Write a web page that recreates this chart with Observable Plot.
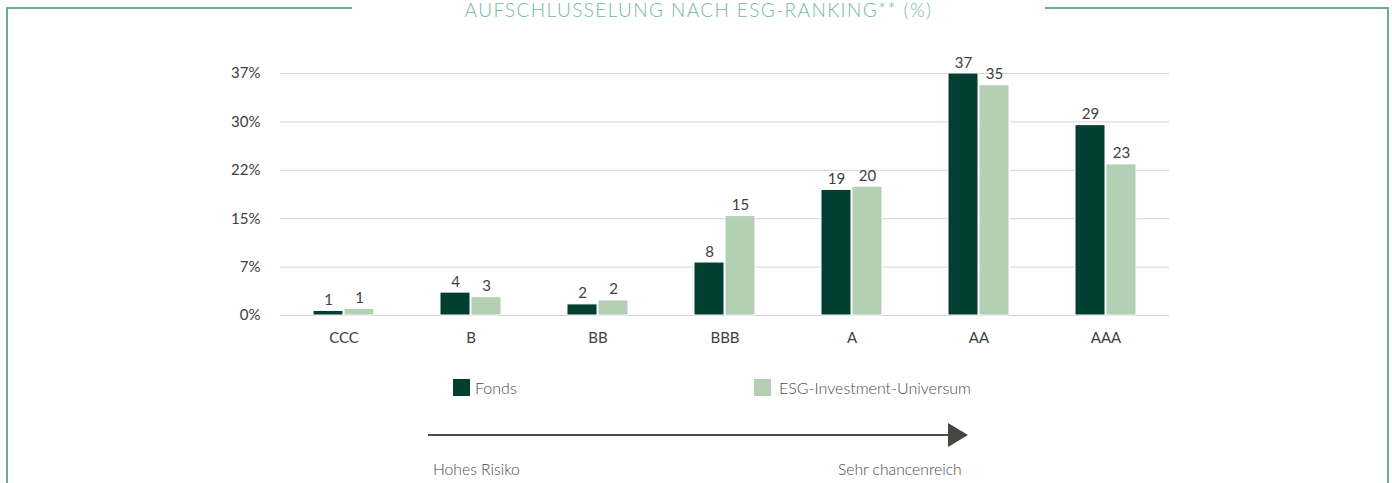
<!DOCTYPE html>
<html>
<head>
<meta charset="utf-8">
<script src="https://cdn.jsdelivr.net/npm/d3@7"></script>
<script src="https://cdn.jsdelivr.net/npm/@observablehq/plot@0.6"></script>
<style>
  html, body { margin:0; padding:0; background:#fff; }
  body { width:1392px; height:483px; position:relative; overflow:hidden; font-family: Lato, "Open Sans", sans-serif; }
  #frame { position:absolute; left:0; top:0; }
  #title { position:absolute; left:352px; width:693px; top:0px; line-height:20px; text-align:center; font-size:19px; font-weight:300; color:#74b99f; letter-spacing:1.4px; white-space:nowrap; }
  #chart { position:absolute; left:0; top:0; }
  .leg { position:absolute; top:378px; font-size:16px; font-weight:300; color:#4a4a4a; display:flex; align-items:center; }
  .sw { width:17px; height:17px; }
  .cap { position:absolute; top:460px; font-size:15.7px; font-weight:300; color:#4a4a4a; }
</style>
</head>
<body>
<svg id="frame" width="1392" height="483">
  <line x1="7" y1="8" x2="352" y2="8" stroke="#6aae95" stroke-width="2"/>
  <line x1="1045" y1="8" x2="1389" y2="8" stroke="#6aae95" stroke-width="2"/>
  <line x1="7" y1="7" x2="7" y2="483" stroke="#6aae95" stroke-width="2"/>
  <line x1="1388" y1="7" x2="1388" y2="483" stroke="#6aae95" stroke-width="2"/>
  <line x1="428" y1="435" x2="950" y2="435" stroke="#4b4b45" stroke-width="2"/>
  <polygon points="948,423 968,435 948,447" fill="#45463f"/>
</svg>
<div id="title">AUFSCHLUSSELUNG NACH ESG-RANKING** (%)</div>
<div id="chart"></div>
<div class="leg" style="left:453px"><div class="sw" style="background:#023e32;margin-right:5px"></div>Fonds</div>
<div class="leg" style="left:754px"><div class="sw" style="background:#b3cfb4;margin-right:8px"></div>ESG-Investment-Universum</div>
<div class="cap" style="left:433px">Hohes Risiko</div>
<div class="cap" style="left:838px">Sehr chancenreich</div>
<script>
const categories = ["CCC", "B", "BB", "BBB", "A", "AA", "AAA"];
const seriesNames = ["Fonds", "ESG-Investment-Universum"];
const seriesColors = ["#023e32", "#b3cfb4"];
const fondsValues = [0.7, 3.5, 1.7, 8.1, 19.2, 37.0, 29.1];
const universeValues = [1.0, 2.8, 2.3, 15.2, 19.7, 35.2, 23.1];
const fondsLabels = ["1", "4", "2", "8", "19", "37", "29"];
const universeLabels = ["1", "3", "2", "15", "20", "35", "23"];
const tickValues = [0, 7.4, 14.8, 22.2, 29.6, 37];
const tickLabels = ["0%", "7%", "15%", "22%", "30%", "37%"];

const rows = [];
categories.forEach((c, i) => {
  rows.push({cat: c, series: seriesNames[0], value: fondsValues[i], label: fondsLabels[i]});
  rows.push({cat: c, series: seriesNames[1], value: universeValues[i], label: universeLabels[i]});
});

const chart = Plot.plot({
  width: 1392,
  height: 360,
  marginLeft: 280,
  marginRight: 223,
  marginTop: 73,
  marginBottom: 45,
  style: {fontFamily: "Lato, 'Open Sans', sans-serif", fontSize: "15px", color: "#404040", background: "transparent"},
  fx: {domain: categories, padding: 0, label: null, axis: "bottom", tickSize: 0, tickPadding: 17},
  x: {domain: seriesNames, paddingInner: 0.03, paddingOuter: 1.0, axis: null},
  y: {domain: [0, 37], label: null},
  color: {domain: seriesNames, range: seriesColors},
  marks: [
    Plot.gridY(tickValues, {stroke: "#d6d6d6", strokeOpacity: 1, strokeWidth: 1}),
    Plot.axisY(tickValues, {tickSize: 0, tickPadding: 20, tickFormat: (d, i) => tickLabels[i], label: null, fill: "#404040"}),
    Plot.ruleY([0], {stroke: "#d0d0d0"}),
    Plot.barY(rows, {fx: "cat", x: "series", y: "value", fill: "series", stroke: "white", strokeWidth: 1}),
    Plot.text(rows, {fx: "cat", x: "series", y: "value", text: "label", dy: -6, lineAnchor: "bottom", fill: "#404040"})
  ]
});
document.getElementById("chart").appendChild(chart);
</script>
</body>
</html>
